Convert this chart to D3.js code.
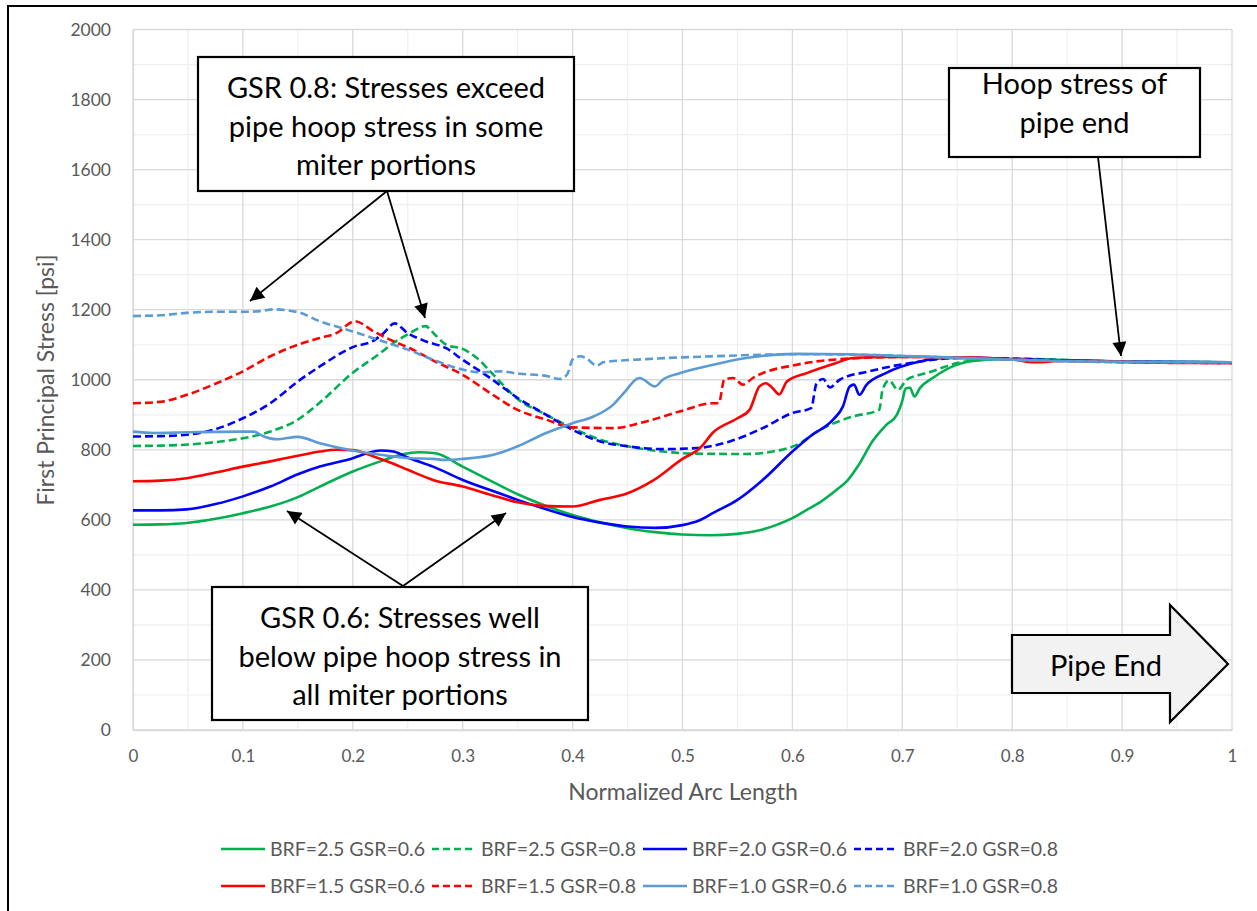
<!DOCTYPE html>
<html>
<head>
<meta charset="utf-8">
<script src="https://cdn.jsdelivr.net/npm/d3@7"></script>
<style>
  html, body { margin: 0; padding: 0; background: #fff; }
  svg { display: block; font-family: Lato, "Open Sans", sans-serif; }
</style>
</head>
<body>
<svg id="chart" width="1257" height="911"></svg>
<script>
// ---- Axis ticks ----
const xTicks = [0, 0.1, 0.2, 0.3, 0.4, 0.5, 0.6, 0.7, 0.8, 0.9, 1];
const xTickLabels = ["0", "0.1", "0.2", "0.3", "0.4", "0.5", "0.6", "0.7", "0.8", "0.9", "1"];
const yTicks = [0, 200, 400, 600, 800, 1000, 1200, 1400, 1600, 1800, 2000];

// ---- Series: [normalized arc length, first principal stress (psi)] ----
const brf25_gsr06 = [[0,586],[0.025,587],[0.049,591],[0.075,603],[0.1,619],[0.125,638],[0.15,665],[0.17,695],[0.2,738],[0.225,767],[0.245,787],[0.26,793],[0.275,790],[0.3,752],[0.325,712],[0.35,673],[0.373,643],[0.4,614],[0.425,593],[0.45,576],[0.475,565],[0.5,558],[0.525,556],[0.55,560],[0.57,570],[0.585,585],[0.6,605],[0.615,632],[0.625,650],[0.64,685],[0.65,712],[0.66,755],[0.673,825],[0.685,870],[0.695,900],[0.7,940],[0.703,975],[0.707,977],[0.711,952],[0.716,976],[0.729,1008],[0.748,1041],[0.768,1055],[0.8,1060],[0.85,1056],[0.9,1052],[1,1050]];
const brf25_gsr08 = [[0,811],[0.025,812],[0.05,815],[0.075,822],[0.1,833],[0.125,852],[0.15,886],[0.17,935],[0.2,1020],[0.225,1076],[0.237,1105],[0.252,1133],[0.266,1153],[0.275,1128],[0.285,1100],[0.3,1088],[0.313,1062],[0.328,1014],[0.35,945],[0.376,900],[0.4,862],[0.425,829],[0.45,810],[0.482,795],[0.513,789],[0.558,788],[0.582,795],[0.604,814],[0.625,857],[0.655,895],[0.679,914],[0.682,971],[0.688,998],[0.696,971],[0.704,1000],[0.716,1014],[0.723,1020],[0.748,1046],[0.768,1056],[0.8,1060],[0.85,1056],[0.9,1052],[1,1050]];
const brf20_gsr06 = [[0,627],[0.025,627],[0.049,630],[0.075,645],[0.1,667],[0.125,695],[0.15,730],[0.17,752],[0.2,776],[0.213,790],[0.225,798],[0.237,795],[0.25,778],[0.273,752],[0.3,714],[0.325,685],[0.35,657],[0.373,633],[0.4,608],[0.425,592],[0.45,581],[0.475,577],[0.5,585],[0.515,598],[0.528,620],[0.55,657],[0.573,714],[0.6,795],[0.616,838],[0.637,886],[0.646,924],[0.652,980],[0.656,986],[0.661,957],[0.667,984],[0.685,1019],[0.716,1052],[0.74,1062],[0.77,1063],[0.8,1058],[0.85,1055],[0.9,1052],[1,1050]];
const brf20_gsr08 = [[0,838],[0.025,839],[0.049,843],[0.073,857],[0.1,890],[0.125,933],[0.15,995],[0.17,1038],[0.2,1093],[0.219,1112],[0.228,1133],[0.238,1161],[0.25,1133],[0.266,1110],[0.285,1090],[0.3,1057],[0.325,1005],[0.35,948],[0.376,900],[0.4,857],[0.425,824],[0.45,810],[0.482,802],[0.513,805],[0.543,824],[0.573,862],[0.6,905],[0.617,919],[0.622,990],[0.628,1002],[0.634,978],[0.643,1000],[0.67,1024],[0.716,1052],[0.75,1062],[0.8,1060],[0.85,1055],[0.9,1051],[1,1048]];
const brf15_gsr06 = [[0,710],[0.025,712],[0.049,719],[0.075,735],[0.1,752],[0.125,767],[0.15,783],[0.17,795],[0.185,800],[0.2,799],[0.219,781],[0.237,760],[0.25,743],[0.273,714],[0.3,695],[0.325,672],[0.35,650],[0.373,640],[0.4,638],[0.425,657],[0.45,676],[0.473,712],[0.5,774],[0.516,805],[0.528,850],[0.55,890],[0.561,914],[0.57,981],[0.576,990],[0.582,976],[0.588,958],[0.595,995],[0.613,1019],[0.64,1048],[0.655,1062],[0.685,1065],[0.72,1065],[0.77,1063],[0.8,1058],[0.82,1050],[0.85,1055],[0.9,1052],[0.95,1048],[1,1048]];
const brf15_gsr08 = [[0,933],[0.025,937],[0.049,957],[0.073,986],[0.1,1024],[0.125,1067],[0.15,1100],[0.17,1119],[0.185,1133],[0.202,1167],[0.219,1138],[0.237,1110],[0.252,1090],[0.275,1052],[0.3,1014],[0.325,962],[0.35,914],[0.376,886],[0.4,864],[0.437,862],[0.467,881],[0.498,910],[0.528,933],[0.533,933],[0.538,1000],[0.546,1005],[0.555,986],[0.564,1005],[0.604,1043],[0.64,1058],[0.7,1065],[0.75,1063],[0.8,1058],[0.85,1053],[0.9,1050],[1,1048]];
const brf10_gsr06 = [[0,852],[0.019,848],[0.049,850],[0.1,852],[0.11,852],[0.119,838],[0.131,830],[0.15,837],[0.17,819],[0.2,798],[0.225,786],[0.252,776],[0.273,774],[0.285,771],[0.3,774],[0.328,786],[0.35,810],[0.376,848],[0.4,876],[0.419,895],[0.437,929],[0.446,960],[0.461,1005],[0.475,981],[0.482,1000],[0.498,1019],[0.528,1043],[0.558,1062],[0.604,1074],[0.65,1073],[0.7,1068],[0.75,1063],[0.8,1057],[0.85,1053],[0.9,1051],[1,1050]];
const brf10_gsr08 = [[0,1182],[0.025,1184],[0.049,1191],[0.073,1194],[0.1,1194],[0.116,1196],[0.128,1201],[0.15,1193],[0.17,1167],[0.2,1138],[0.225,1112],[0.25,1086],[0.275,1055],[0.3,1029],[0.316,1021],[0.334,1024],[0.352,1017],[0.376,1011],[0.388,1002],[0.395,1015],[0.4,1058],[0.407,1067],[0.413,1060],[0.422,1040],[0.428,1050],[0.467,1059],[0.528,1067],[0.604,1073],[0.65,1072],[0.7,1068],[0.75,1062],[0.8,1057],[0.85,1053],[0.9,1051],[1,1050]];

const seriesNames = ["BRF=2.5 GSR=0.6", "BRF=2.5 GSR=0.8", "BRF=2.0 GSR=0.6", "BRF=2.0 GSR=0.8",
                     "BRF=1.5 GSR=0.6", "BRF=1.5 GSR=0.8", "BRF=1.0 GSR=0.6", "BRF=1.0 GSR=0.8"];
const seriesValues = [brf25_gsr06, brf25_gsr08, brf20_gsr06, brf20_gsr08,
                      brf15_gsr06, brf15_gsr08, brf10_gsr06, brf10_gsr08];
const seriesColors = ["#00B050", "#00B050", "#0000FF", "#0000FF",
                      "#FF0000", "#FF0000", "#5B9BD5", "#5B9BD5"];
const seriesDashed = [false, true, false, true, false, true, false, true];

// ---- Layout ----
const svg = d3.select("#chart");
const plot = { left: 133, right: 1232, top: 29.5, bottom: 730 };
const x = d3.scaleLinear().domain([0, 1]).range([plot.left, plot.right]);
const y = d3.scaleLinear().domain([0, 2000]).range([plot.bottom, plot.top]);

// outer frame
svg.append("rect")
  .attr("x", 8).attr("y", 6).attr("width", 1270).attr("height", 930)
  .attr("fill", "none").attr("stroke", "#000").attr("stroke-width", 2);

// gridlines: minor then major
const grid = svg.append("g");
const minorX = d3.range(0.05, 1, 0.1);
const minorY = d3.range(100, 2000, 200);
grid.selectAll(".mx").data(minorX).join("line")
  .attr("x1", d => x(d)).attr("x2", d => x(d)).attr("y1", plot.top).attr("y2", plot.bottom)
  .attr("stroke", "#EFEFEF").attr("stroke-width", 1.2);
grid.selectAll(".my").data(minorY).join("line")
  .attr("x1", plot.left).attr("x2", plot.right).attr("y1", d => y(d)).attr("y2", d => y(d))
  .attr("stroke", "#EFEFEF").attr("stroke-width", 1.2);
grid.selectAll(".Mx").data(xTicks).join("line")
  .attr("x1", d => x(d)).attr("x2", d => x(d)).attr("y1", plot.top).attr("y2", plot.bottom)
  .attr("stroke", "#D9D9D9").attr("stroke-width", 1.3);
grid.selectAll(".My").data(yTicks).join("line")
  .attr("x1", plot.left).attr("x2", plot.right).attr("y1", d => y(d)).attr("y2", d => y(d))
  .attr("stroke", "#D9D9D9").attr("stroke-width", 1.3);

// axes (labels only)
const xAxis = d3.axisBottom(x).tickValues(xTicks)
  .tickFormat((d, i) => xTickLabels[i]).tickSize(0).tickPadding(20);
const gx = svg.append("g").attr("transform", `translate(0,${plot.bottom})`).call(xAxis);
gx.select(".domain").attr("stroke", "#D9D9D9").attr("stroke-width", 1.3);
gx.selectAll("text").attr("fill", "#595959").attr("font-size", 17).attr("font-family", "Lato");

const yAxis = d3.axisLeft(y).tickValues(yTicks).tickFormat(d3.format("d")).tickSize(0).tickPadding(22);
const gy = svg.append("g").attr("transform", `translate(${plot.left},0)`).call(yAxis);
gy.select(".domain").attr("stroke", "#D9D9D9").attr("stroke-width", 1.3);
gy.selectAll("text").attr("fill", "#595959").attr("font-size", 17.5).attr("font-family", "Lato");

// axis titles
svg.append("text").attr("x", 683).attr("y", 800).attr("text-anchor", "middle")
  .attr("fill", "#595959").attr("font-size", 23).text("Normalized Arc Length");
svg.append("text").attr("transform", "translate(54,380) rotate(-90)").attr("text-anchor", "middle")
  .attr("fill", "#595959").attr("font-size", 23).text("First Principal Stress [psi]");

// series lines
const line = d3.line().x(d => x(d[0])).y(d => y(d[1])).curve(d3.curveMonotoneX);
svg.append("g").selectAll("path").data(seriesValues).join("path")
  .attr("d", line)
  .attr("fill", "none")
  .attr("stroke", (d, i) => seriesColors[i])
  .attr("stroke-width", 2.6)
  .attr("stroke-linejoin", "round")
  .attr("stroke-dasharray", (d, i) => seriesDashed[i] ? "8,4" : null);

// arrow marker
const defs = svg.append("defs");
defs.append("marker").attr("id", "head").attr("viewBox", "0 0 10 10")
  .attr("refX", 10).attr("refY", 5).attr("markerWidth", 17).attr("markerHeight", 14)
  .attr("markerUnits", "userSpaceOnUse").attr("orient", "auto")
  .append("path").attr("d", "M0,0 L10,5 L0,10 Z").attr("fill", "#000");

function arrow(x1, y1, x2, y2) {
  svg.append("line").attr("x1", x1).attr("y1", y1).attr("x2", x2).attr("y2", y2)
    .attr("stroke", "#000").attr("stroke-width", 1.8).attr("marker-end", "url(#head)");
}

function callout(x0, y0, x1, y1, lines, baseline0, lineGap) {
  svg.append("rect").attr("x", x0).attr("y", y0).attr("width", x1 - x0).attr("height", y1 - y0)
    .attr("fill", "#fff").attr("stroke", "#000").attr("stroke-width", 2.2);
  const t = svg.append("text").attr("text-anchor", "middle").attr("fill", "#000").attr("font-size", 29);
  lines.forEach((s, i) => t.append("tspan").attr("x", (x0 + x1) / 2).attr("y", baseline0 + i * lineGap).text(s));
}

// annotations
arrow(387, 191, 250, 301);
arrow(387, 191, 425, 318);
callout(198, 57, 574, 191, ["GSR 0.8: Stresses exceed", "pipe hoop stress in some", "miter portions"], 98, 38.5);

arrow(1098, 157, 1121, 356);
callout(949, 68, 1200, 157, ["Hoop stress of", "pipe end"], 94, 38.5);

arrow(403, 586, 287, 511);
arrow(403, 586, 506, 513);
callout(212, 587, 588, 720, ["GSR 0.6: Stresses well", "below pipe hoop stress in", "all miter portions"], 628, 38.5);

// block arrow toward the pipe end
const pe = [[1012, 635], [1170, 635], [1170, 605], [1228, 664], [1170, 722], [1170, 693], [1012, 693]];
svg.append("path").attr("d", "M" + pe.map(p => p.join(",")).join("L") + "Z")
  .attr("fill", "#F2F2F2").attr("stroke", "#000").attr("stroke-width", 2.2).attr("stroke-linejoin", "miter");
svg.append("text").attr("x", 1106).attr("y", 676).attr("text-anchor", "middle")
  .attr("font-size", 29).attr("fill", "#000").text("Pipe End");

// legend
const legend = svg.append("g").selectAll("g").data(seriesNames).join("g")
  .attr("transform", (d, i) => `translate(${221 + (i % 4) * 211},${849 + Math.floor(i / 4) * 37})`);
legend.append("line").attr("x1", 0).attr("x2", 44).attr("y1", 0).attr("y2", 0)
  .attr("stroke", (d, i) => seriesColors[i]).attr("stroke-width", 2.6)
  .attr("stroke-dasharray", (d, i) => seriesDashed[i] ? "7,4" : null);
legend.append("text").attr("x", 49).attr("y", 0).attr("dy", "0.35em")
  .attr("fill", "#595959").attr("font-size", 19.5).text(d => d);
</script>
</body>
</html>
